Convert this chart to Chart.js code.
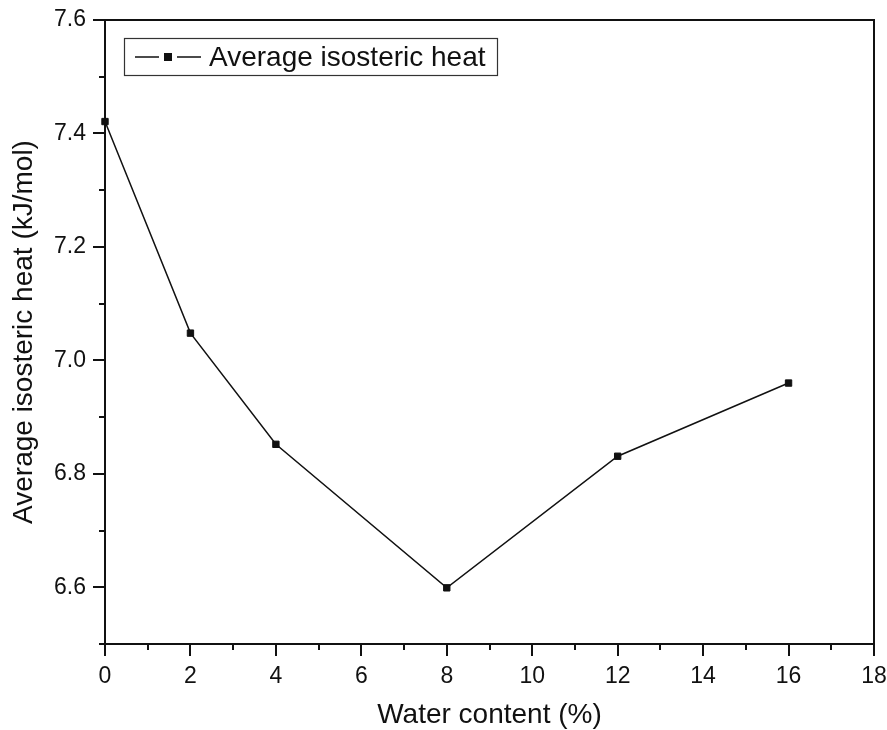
<!DOCTYPE html>
<html>
<head>
<meta charset="utf-8">
<script src="https://cdn.jsdelivr.net/npm/chart.js@4/dist/chart.umd.min.js"></script>
<style>
html,body{margin:0;padding:0;background:#fff;}
#wrap{width:887px;height:730px;}
</style>
</head>
<body>
<div id="wrap"><canvas id="c" width="887" height="730"></canvas></div>
<script>
// ---- data ----
const waterContent = [0, 2, 4, 8, 12, 16];
const isostericHeat = [7.421, 7.048, 6.852, 6.599, 6.831, 6.960];
const seriesLabel = 'Average isosteric heat';
const xMajorTicks = [0, 2, 4, 6, 8, 10, 12, 14, 16, 18];
const xMinorTicks = [1, 3, 5, 7, 9, 11, 13, 15, 17];
const yMajorTicks = [6.6, 6.8, 7.0, 7.2, 7.4, 7.6];
const yMinorTicks = [6.5, 6.7, 6.9, 7.1, 7.3, 7.5];
const xTitle = 'Water content (%)';
const yTitle = 'Average isosteric heat (kJ/mol)';

const FONT = "'Liberation Sans', Arial, sans-serif";
const INK = '#111';

const framePlugin = {
  id: 'frame',
  afterDraw(chart) {
    const {ctx, chartArea: a, scales} = chart;
    ctx.save();
    ctx.strokeStyle = INK;
    ctx.lineWidth = 2;
    // top & right frame
    ctx.beginPath();
    ctx.moveTo(a.left, a.top);
    ctx.lineTo(a.right, a.top);
    ctx.lineTo(a.right, a.bottom);
    ctx.stroke();
    // minor ticks
    ctx.beginPath();
    xMinorTicks.forEach(v => {
      const px = Math.round(scales.x.getPixelForValue(v));
      ctx.moveTo(px, a.bottom);
      ctx.lineTo(px, a.bottom + 6);
    });
    yMinorTicks.forEach(v => {
      const py = Math.round(scales.y.getPixelForValue(v));
      ctx.moveTo(a.left, py);
      ctx.lineTo(a.left - 6, py);
    });
    ctx.stroke();
    // legend
    const lx = 124, ly = 38, lw = 373, lh = 37;
    ctx.lineWidth = 1.2;
    ctx.strokeStyle = '#333';
    ctx.strokeRect(lx + 0.5, ly + 0.5, lw, lh);
    const cy = ly + 19;
    ctx.strokeStyle = INK;
    ctx.lineWidth = 1.5;
    ctx.beginPath();
    ctx.moveTo(135, cy); ctx.lineTo(159, cy);
    ctx.moveTo(177, cy); ctx.lineTo(201, cy);
    ctx.stroke();
    ctx.fillStyle = INK;
    ctx.fillRect(164, cy - 4, 8, 8);
    ctx.font = '28px ' + FONT;
    ctx.textBaseline = 'middle';
    ctx.textAlign = 'left';
    ctx.fillText(chart.data.datasets[0].label, 209, cy + 1);
    ctx.restore();
  }
};

new Chart(document.getElementById('c'), {
  type: 'line',
  data: {
    datasets: [{
      label: seriesLabel,
      data: waterContent.map((x, i) => ({x, y: isostericHeat[i]})),
      borderColor: INK,
      borderWidth: 1.5,
      backgroundColor: INK,
      pointStyle: 'rect',
      pointRadius: 4.5,
      pointBorderWidth: 1,
      pointBorderColor: INK,
      pointBackgroundColor: INK,
      tension: 0,
      clip: false
    }]
  },
  options: {
    responsive: false,
    animation: false,
    devicePixelRatio: 1,
    layout: {padding: {top: 20, right: 13, left: 0, bottom: 0}},
    plugins: {legend: {display: false}, tooltip: {enabled: false}},
    scales: {
      x: {
        type: 'linear', min: 0, max: 18,
        afterBuildTicks: s => { s.ticks = xMajorTicks.map(v => ({value: v})); },
        afterFit: s => { s.height = 86; s.paddingLeft = 0; s.paddingRight = 0; },
        grid: {drawOnChartArea: false, color: INK, lineWidth: 2, tickLength: 12},
        border: {display: true, color: INK, width: 2},
        ticks: {color: INK, font: {family: FONT, size: 23}, padding: 7, maxRotation: 0, autoSkip: false},
        title: {display: true, text: xTitle, color: INK, font: {family: FONT, size: 28, lineHeight: 1.2}, padding: {top: 0, bottom: -2}}
      },
      y: {
        type: 'linear', min: 6.5, max: 7.6,
        afterBuildTicks: s => { s.ticks = yMajorTicks.map(v => ({value: v})); },
        afterFit: s => { s.width = 105; s.paddingTop = 0; s.paddingBottom = 0; },
        grid: {drawOnChartArea: false, color: INK, lineWidth: 2, tickLength: 12},
        border: {display: true, color: INK, width: 2},
        ticks: {color: INK, font: {family: FONT, size: 23}, padding: 7, autoSkip: false,
                callback: v => Number(v).toFixed(1)},
        title: {display: true, text: yTitle, color: INK, font: {family: FONT, size: 28, lineHeight: 1.2}, padding: {top: 7, bottom: 0}}
      }
    }
  },
  plugins: [framePlugin]
});
</script>
</body>
</html>
